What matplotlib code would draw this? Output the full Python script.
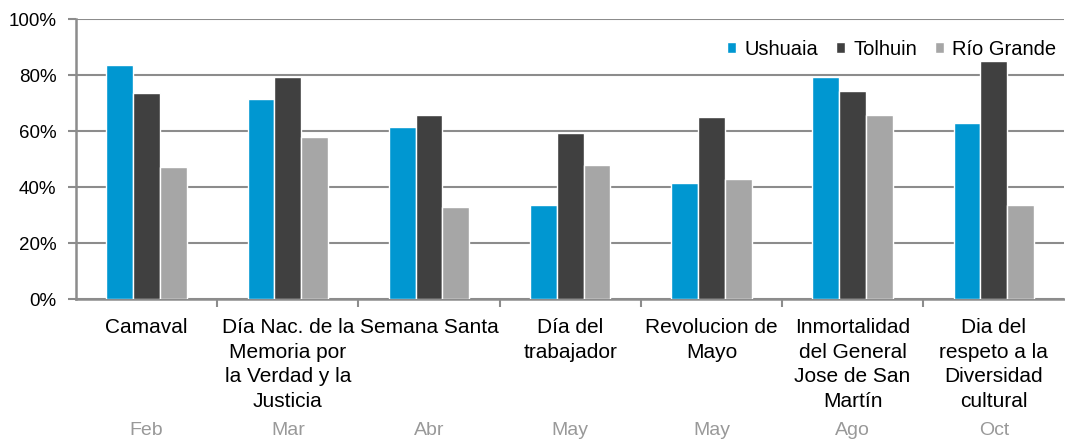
import matplotlib.pyplot as plt
import matplotlib.transforms as mtransforms
import numpy as np

plt.rcParams['font.family'] = ['Liberation Sans', 'DejaVu Sans']

categories = ['Camaval', 'Día Nac. de la\nMemoria por\nla Verdad y la\nJusticia', 'Semana Santa',
              'Día del\ntrabajador', 'Revolucion de\nMayo', 'Inmortalidad\ndel General\nJose de San\nMartín',
              'Dia del\nrespeto a la\nDiversidad\ncultural']
months = ['Feb', 'Mar', 'Abr', 'May', 'May', 'Ago', 'Oct']

ushuaia = [83.6, 71.4, 61.4, 33.6, 41.4, 79.3, 62.9]
tolhuin = [73.6, 79.3, 65.7, 59.3, 65.0, 74.3, 85.0]
rio_grande = [47.1, 57.9, 32.9, 47.9, 42.9, 65.7, 33.6]

series = [('Ushuaia', ushuaia, '#0097D1'),
          ('Tolhuin', tolhuin, '#404040'),
          ('Río Grande', rio_grande, '#A6A6A6')]

fig = plt.figure(figsize=(10.65, 4.43), dpi=100)
ax = fig.add_axes([0.0714, 0.325, 0.928, 0.632])

x = np.arange(len(categories))
w = 0.19
for i, (name, vals, col) in enumerate(series):
    ax.bar(x + (i - 1) * w, vals, width=w, color=col, edgecolor='white',
           linewidth=1, label=name, zorder=3)

ax.set_xlim(-0.5, len(categories) - 0.5)
ax.set_ylim(0, 100)
ax.set_yticks(np.arange(0, 101, 20))
ax.set_yticklabels([f'{v}%' for v in range(0, 101, 20)], fontsize=13.5)
ax.yaxis.grid(True, color='#8C8C8C', linewidth=1.5, zorder=0)

# category labels centered, ticks at boundaries
ax.set_xticks(x)
ax.set_xticklabels(categories, fontsize=15, linespacing=1.36, va='top')
ax.tick_params(axis='x', length=0, pad=14)
ax.set_xticks(np.arange(0.5, len(categories) - 0.5), minor=True)
ax.tick_params(axis='x', which='minor', length=6, width=1.5, color='#8C8C8C')
ax.tick_params(axis='y', length=6, width=1.5, color='#8C8C8C', pad=8)

for s in ['top', 'right']:
    ax.spines[s].set_visible(False)
for s in ['left', 'bottom']:
    ax.spines[s].set_color('#8C8C8C')
    ax.spines[s].set_linewidth(1.8)

trans = mtransforms.blended_transform_factory(ax.transData, ax.transAxes)
for xi, m in zip(x, months):
    ax.text(xi, -0.47, m, transform=trans, ha='center', va='center',
            fontsize=14, color='#999999')

ax.legend(loc='upper right', ncol=3, frameon=False, fontsize=14.5,
          handlelength=0.45, handleheight=0.45, handletextpad=0.4,
          columnspacing=0.9, bbox_to_anchor=(1.0, 0.955), borderaxespad=0)

fig.savefig('out.png', dpi=100)
